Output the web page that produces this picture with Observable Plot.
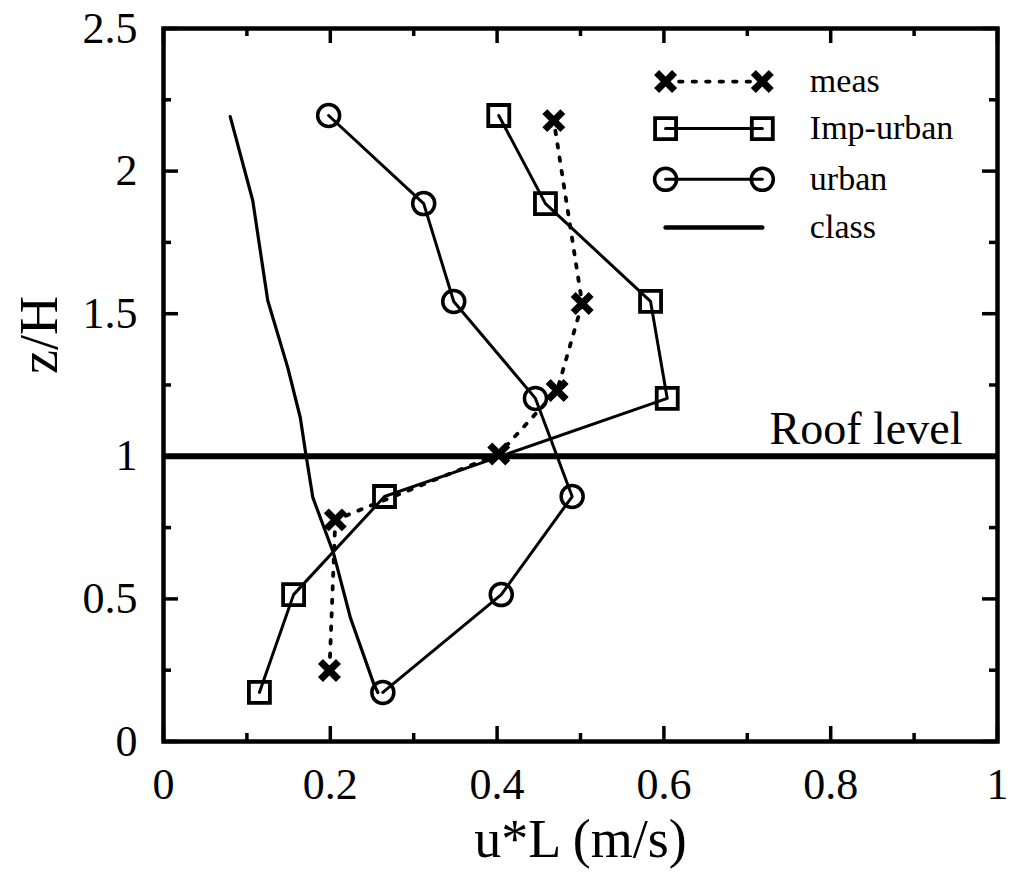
<!DOCTYPE html>
<html>
<head>
<meta charset="utf-8">
<script src="https://cdn.jsdelivr.net/npm/d3@7"></script>
<script src="https://cdn.jsdelivr.net/npm/@observablehq/plot@0.6"></script>
<style>
  body { margin: 0; background: #fff; }
  #chart svg { font-family: "Liberation Serif", "Times New Roman", serif; }
</style>
</head>
<body>
<div id="chart"></div>
<script>
// Heights (z/H) of the model levels
const modelZ = [0.172, 0.515, 0.859, 1.203, 1.543, 1.886, 2.195];
// Friction velocity profiles u*L (m/s)
const impUrbanU = [0.115, 0.156, 0.265, 0.604, 0.584, 0.458, 0.402];
const urbanU    = [0.263, 0.405, 0.490, 0.446, 0.348, 0.312, 0.198];
// Measurements
const measZ = [0.249, 0.777, 1.008, 1.231, 1.536, 2.177];
const measU = [0.199, 0.206, 0.402, 0.472, 0.502, 0.468];
// Classical parameterisation (continuous profile)
const classZ = [0.172, 0.203, 0.435, 0.659, 0.856, 1.020, 1.136, 1.311, 1.546, 1.897, 2.191];
const classU = [0.257, 0.252, 0.224, 0.204, 0.179, 0.170, 0.164, 0.149, 0.125, 0.107, 0.080];
// Roof level
const roofZ = 1;
// Axis ticks
const xMajor = [0, 0.2, 0.4, 0.6, 0.8, 1];
const xMinor = [0.1, 0.3, 0.5, 0.7, 0.9];
const yMajor = [0, 0.5, 1, 1.5, 2, 2.5];
const yMinor = [0.25, 0.75, 1.25, 1.75, 2.25];
// Legend
const legendNames = ["meas", "Imp-urban", "urban", "class"];
const legendZ = [2.314, 2.149, 1.971, 1.802];

const meas = measZ.map((z, i) => ({u: measU[i], z}));
const impUrban = modelZ.map((z, i) => ({u: impUrbanU[i], z}));
const urban = modelZ.map((z, i) => ({u: urbanU[i], z}));
const classic = classZ.map((z, i) => ({u: classU[i], z}));

// Marker shapes
const squareSym = {draw(ctx, size) {
  const r = Math.sqrt(size / Math.PI);
  ctx.moveTo(-r, -r); ctx.lineTo(r, -r); ctx.lineTo(r, r); ctx.lineTo(-r, r); ctx.closePath();
}};
const crossSym = {draw(ctx, size) {
  const r = Math.sqrt(size / Math.PI);
  ctx.moveTo(-r, -r); ctx.lineTo(r, r); ctx.moveTo(r, -r); ctx.lineTo(-r, r);
}};

const W = 1009, H = 877;
const mL = 163, mR = 12, mT = 28, mB = 136;
const fw = W - mL - mR, fh = H - mT - mB;
const majorLen = 15, minorLen = 8;

// Legend samples: two marker positions and the label start
const lgX1 = 0.602, lgX2 = 0.718, lgText = 0.775;
const legendRows = legendNames.map((name, i) => ({name, z: legendZ[i]}));
const legendPairs = legendRows.flatMap(d => [{...d, u: lgX1}, {...d, u: lgX2}]);

const markerStyle = {
  "meas": {symbol: crossSym, r: 9, strokeWidth: 7},
  "Imp-urban": {symbol: squareSym, r: 10.5, strokeWidth: 3.8},
  "urban": {symbol: "circle", r: 11, strokeWidth: 3.5}
};
const dotted = {strokeWidth: 3.8, strokeDasharray: "3.5,10"};

const marks = [
  // inward tick marks on all four sides
  Plot.tickX(xMajor, {x: d => d, insetTop: fh - majorLen, strokeWidth: 3.5}),
  Plot.tickX(xMinor, {x: d => d, insetTop: fh - minorLen, strokeWidth: 3.5}),
  Plot.tickX(xMajor, {x: d => d, insetBottom: fh - majorLen, strokeWidth: 3.5}),
  Plot.tickX(xMinor, {x: d => d, insetBottom: fh - minorLen, strokeWidth: 3.5}),
  Plot.tickY(yMajor, {y: d => d, insetRight: fw - majorLen, strokeWidth: 3.5}),
  Plot.tickY(yMinor, {y: d => d, insetRight: fw - minorLen, strokeWidth: 3.5}),
  Plot.tickY(yMajor, {y: d => d, insetLeft: fw - majorLen, strokeWidth: 3.5}),
  Plot.tickY(yMinor, {y: d => d, insetLeft: fw - minorLen, strokeWidth: 3.5}),
  Plot.axisX(xMajor, {tickSize: 0, tickPadding: 26, fontSize: 44, label: null, tickFormat: d => String(d)}),
  Plot.axisY(yMajor, {tickSize: 0, tickPadding: 26, fontSize: 44, label: null, tickFormat: d => String(d)}),

  // roof level
  Plot.ruleY([roofZ], {strokeWidth: 6}),
  Plot.text(["Roof level"], {x: 0.958, y: roofZ, textAnchor: "end", lineAnchor: "bottom", dy: -12, fontSize: 46}),

  // profiles
  Plot.line(classic, {x: "u", y: "z", strokeWidth: 3.2}),
  Plot.line(meas, {x: "u", y: "z", ...dotted}),
  Plot.dot(meas, {x: "u", y: "z", ...markerStyle["meas"], stroke: "black", fill: "none"}),
  Plot.line(impUrban, {x: "u", y: "z", strokeWidth: 3}),
  Plot.dot(impUrban, {x: "u", y: "z", ...markerStyle["Imp-urban"], stroke: "black", fill: "none"}),
  Plot.line(urban, {x: "u", y: "z", strokeWidth: 3}),
  Plot.dot(urban, {x: "u", y: "z", ...markerStyle["urban"], stroke: "black", fill: "none"}),

  // legend
  Plot.line(legendPairs.filter(d => d.name === "meas"), {x: "u", y: "z", ...dotted}),
  Plot.line(legendPairs.filter(d => d.name === "Imp-urban"), {x: "u", y: "z", strokeWidth: 3}),
  Plot.line(legendPairs.filter(d => d.name === "urban"), {x: "u", y: "z", strokeWidth: 3}),
  Plot.line(legendPairs.filter(d => d.name === "class"), {x: "u", y: "z", strokeWidth: 4.5}),
  ...["meas", "Imp-urban", "urban"].map(n =>
    Plot.dot(legendPairs.filter(d => d.name === n), {x: "u", y: "z", ...markerStyle[n], stroke: "black", fill: "none"})),
  Plot.text(legendRows, {x: () => lgText, y: "z", text: "name", textAnchor: "start", fontSize: 34}),

  // axis titles
  Plot.text(["u*L (m/s)"], {frameAnchor: "bottom", dy: 115, fontSize: 54}),
  Plot.text(["z/H"], {frameAnchor: "left", rotate: -90, dx: -124, dy: -11, fontSize: 54}),

  Plot.frame({stroke: "black", strokeWidth: 4.5})
];

const chart = Plot.plot({
  width: W, height: H,
  marginLeft: mL, marginRight: mR, marginTop: mT, marginBottom: mB,
  style: {fontFamily: "Liberation Serif", background: "white", color: "black"},
  x: {domain: [0, 1], axis: null, label: null},
  y: {domain: [0, 2.5], axis: null, label: null},
  marks
});
document.getElementById("chart").appendChild(chart);
</script>
</body>
</html>
